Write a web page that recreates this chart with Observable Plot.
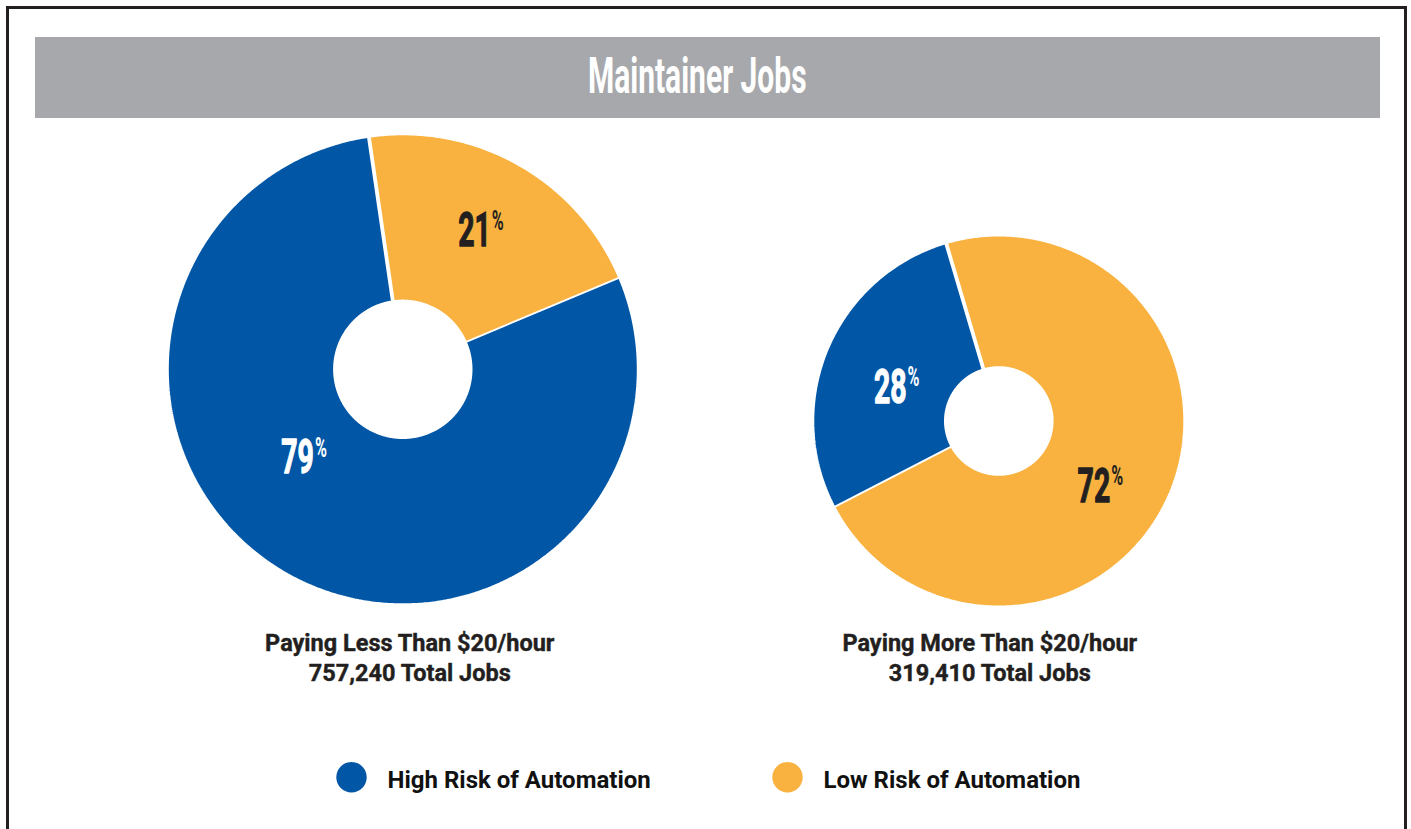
<!DOCTYPE html>
<html><head><meta charset="utf-8">
<script src="https://cdn.jsdelivr.net/npm/d3@7"></script>
<script src="https://cdn.jsdelivr.net/npm/@observablehq/plot@0.6"></script>
<style>
html,body{margin:0;padding:0;background:#fff;}
#wrap{position:relative;width:1411px;height:829px;overflow:hidden;font-family:Roboto,"Noto Sans",sans-serif;}
#frame{position:absolute;left:6px;top:6px;width:1395px;height:840px;border:3px solid #231f20;border-bottom:none;}
#title{position:absolute;left:35px;top:37px;width:1345px;height:81px;background:#a7a8ab;color:#fff;display:flex;align-items:center;justify-content:center;}
#title span{display:inline-block;font-weight:700;font-size:50px;line-height:1;transform:translate(-10px,-2px) scaleX(0.6);white-space:nowrap;}
#chart{position:absolute;left:0;top:0;}
</style></head><body>
<div id="wrap"><div id="chart"></div><div id="frame"></div><div id="title"><span>Maintainer Jobs</span></div></div>
<script>
// ---- data ----
const chartTitle = "Maintainer Jobs";
const panels = ["Paying Less Than $20/hour", "Paying More Than $20/hour"];
const totalJobs = [757240, 319410];
const risks = ["High Risk of Automation", "Low Risk of Automation"];
const highRiskPct = [79, 28];
const lowRiskPct = [21, 72];

// ---- styles ----
const riskColors = ["#0156a6", "#f9b23f"];
const pctTextColors = ["#ffffff", "#231f20"];

// ---- layout ----
const W = 1411, H = 829, SW = 3.8;
const donutLayout = [
  {cx: 402.3, cy: 368.8, rOuter: 234, rInner: 69.7, start: -8.3, labelDx: 7, labelY: 629.5,
   pctPos: {high: {r: 124, a: 225.8}, low: {r: 166, a: 32}}},
  {cx: 998.3, cy: 420.5, rOuter: 184.5, rInner: 54.8, start: -16.5, labelDx: -9, labelY: 629.5,
   pctPos: {high: {r: 99, a: 291.3}, low: {r: 128, a: 119.5}}}
];
const legendLayout = {x: [351, 787], y: 776.8, textDx: 36};

document.querySelector("#title span").textContent = chartTitle;

const rad = Math.PI / 180;
const slices = [];
panels.forEach((p, i) => {
  const L = donutLayout[i];
  const parts = [{risk: risks[1], pct: lowRiskPct[i], k: "low"}, {risk: risks[0], pct: highRiskPct[i], k: "high"}];
  let a = L.start;
  for (const part of parts) {
    const span = part.pct / 100 * 360;
    slices.push({panel: p, i, risk: part.risk, k: part.k, pct: part.pct, a0: a, a1: a + span});
    a += span;
  }
});

const pts = [];
for (const s of slices) {
  const L = donutLayout[s.i];
  const key = s.panel + "|" + s.risk;
  const n = Math.ceil((s.a1 - s.a0) / 0.5);
  const ro = L.rOuter + SW / 2, ri = L.rInner - SW / 2;
  for (let k = 0; k <= n; k++) {
    const a = (s.a0 + (s.a1 - s.a0) * k / n) * rad;
    pts.push({key, risk: s.risk, x: L.cx + ro * Math.sin(a), y: L.cy - ro * Math.cos(a)});
  }
  for (let k = n; k >= 0; k--) {
    const a = (s.a0 + (s.a1 - s.a0) * k / n) * rad;
    pts.push({key, risk: s.risk, x: L.cx + ri * Math.sin(a), y: L.cy - ri * Math.cos(a)});
  }
}

const pctLabels = slices.map(s => {
  const L = donutLayout[s.i];
  const lp = L.pctPos[s.k];
  return {...s, x: L.cx + lp.r * Math.sin(lp.a * rad), y: L.cy - lp.r * Math.cos(lp.a * rad)};
});

const panelLabels = panels.map((p, i) => ({
  text: `${p}\n${d3.format(",")(totalJobs[i])} Total Jobs`,
  x: donutLayout[i].cx + donutLayout[i].labelDx,
  y: donutLayout[i].labelY
}));

const pctMarks = [];
risks.forEach((r, ri) => {
  const data = pctLabels.filter(d => d.risk === r);
  pctMarks.push(Plot.text(data, {x: "x", y: "y", text: d => String(d.pct), textAnchor: "end", lineAnchor: "middle",
    dy: 2, fill: pctTextColors[ri], stroke: pctTextColors[ri], strokeWidth: 1.3, fontSize: 49, fontWeight: 700, fontFamily: "Roboto"}));
  pctMarks.push(Plot.text(data, {x: "x", y: "y", text: () => "%", textAnchor: "start", lineAnchor: "top",
    dx: 1, dy: -18, fill: pctTextColors[ri], fontSize: 27, fontWeight: 700, fontFamily: "Roboto"}));
});

const svg = Plot.plot({
  width: W, height: H, margin: 0,
  style: {background: "transparent", overflow: "visible"},
  x: {domain: [0, W], range: [0, W], axis: null},
  y: {domain: [0, H], range: [0, H], axis: null},
  color: {domain: risks, range: riskColors},
  marks: [
    Plot.line(pts, {x: "x", y: "y", z: "key", fill: "risk", stroke: "white", strokeWidth: SW, strokeLinejoin: "miter"}),
    ...pctMarks,
    Plot.text(panelLabels, {x: "x", y: "y", text: "text", textAnchor: "middle", lineAnchor: "top", lineHeight: 1.28,
      fontSize: 23.5, fontWeight: 700, fontFamily: "Roboto", fill: "#231f20", stroke: "#231f20", strokeWidth: 0.4}),
    Plot.dot(risks, {x: (d, i) => legendLayout.x[i], y: () => legendLayout.y, r: 15.2, fill: d => d}),
    Plot.text(risks, {x: (d, i) => legendLayout.x[i], y: () => legendLayout.y, dx: legendLayout.textDx, dy: 3.5, text: d => d,
      textAnchor: "start", lineAnchor: "middle", fontSize: 24, fontWeight: 700, fontFamily: "Roboto", fill: "#111111"})
  ]
});

const sel = d3.select(svg);
sel.selectAll('g[font-size="49"] text').attr("transform", function () { return (this.getAttribute("transform") || "") + " scale(0.58,1)"; });
sel.selectAll('g[font-size="27"] text').attr("transform", function () { return (this.getAttribute("transform") || "") + " scale(0.6,1)"; });

document.getElementById("chart").appendChild(svg);
</script></body></html>
